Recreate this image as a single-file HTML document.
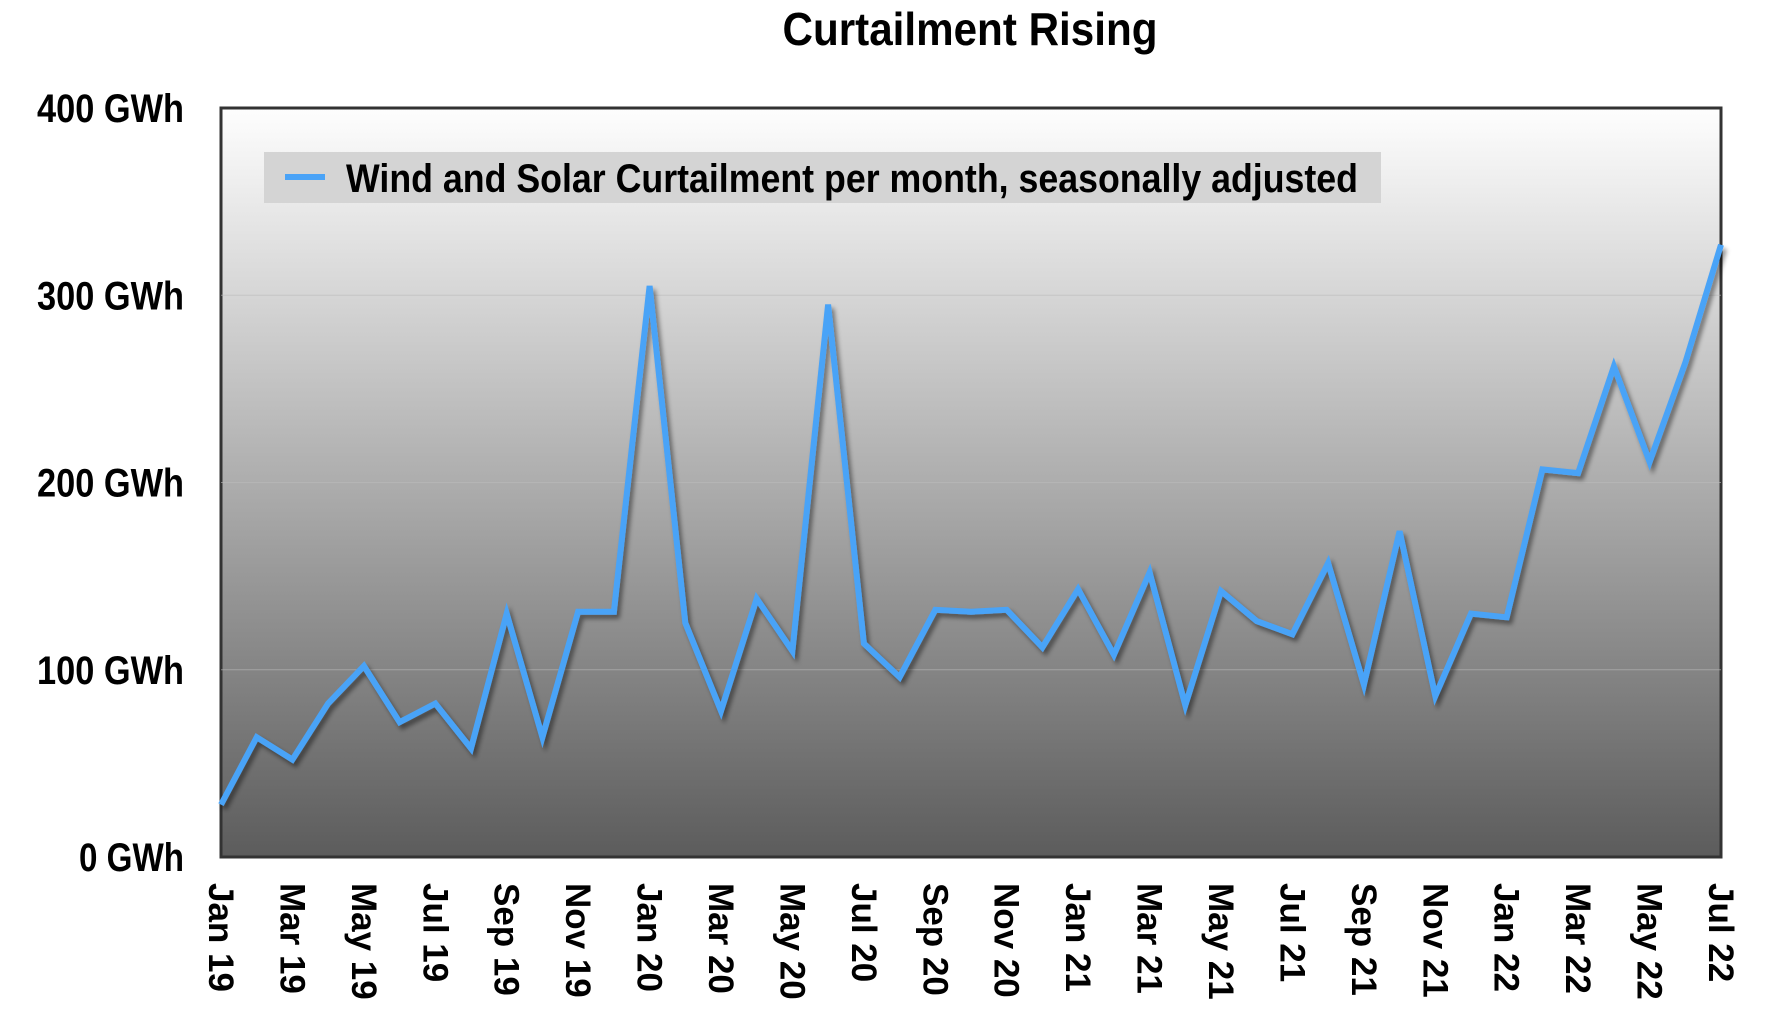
<!DOCTYPE html>
<html><head><meta charset="utf-8"><style>html,body{margin:0;padding:0;background:#fff}svg{display:block}</style></head>
<body>
<svg id="chart" width="1770" height="1026" xmlns="http://www.w3.org/2000/svg" font-family="'Liberation Sans', sans-serif" font-weight="bold">
<defs>
<linearGradient id="bg" x1="0" y1="0" x2="0" y2="1"><stop offset="0" stop-color="#fefefe"/><stop offset="1" stop-color="#5c5c5c"/></linearGradient>
<filter id="sh" x="-5%" y="-5%" width="110%" height="110%"><feDropShadow dx="3" dy="4" stdDeviation="2.5" flood-color="#000" flood-opacity="0.45"/></filter>
</defs>
<text x="970" y="45" text-anchor="middle" font-size="46" textLength="375" lengthAdjust="spacingAndGlyphs">Curtailment Rising</text>
<rect x="221" y="108" width="1500" height="749" fill="url(#bg)" stroke="#333" stroke-width="3"/>
<g id="grid"></g>
<g id="yticks"></g>
<g id="xticks"></g>
<rect x="264" y="152" width="1117" height="51" fill="#d4d4d4"/>
<line x1="285" y1="177" x2="325" y2="177" stroke="#4aa3f7" stroke-width="6"/>
<text x="346" y="192" font-size="40" textLength="1012" lengthAdjust="spacingAndGlyphs">Wind and Solar Curtailment per month, seasonally adjusted</text>
<path id="series" fill="none" stroke="#4aa3f7" stroke-width="6" stroke-linejoin="miter" filter="url(#sh)"/>
</svg>
<script>
const months = ["Jan 19","Feb 19","Mar 19","Apr 19","May 19","Jun 19","Jul 19","Aug 19","Sep 19","Oct 19","Nov 19","Dec 19","Jan 20","Feb 20","Mar 20","Apr 20","May 20","Jun 20","Jul 20","Aug 20","Sep 20","Oct 20","Nov 20","Dec 20","Jan 21","Feb 21","Mar 21","Apr 21","May 21","Jun 21","Jul 21","Aug 21","Sep 21","Oct 21","Nov 21","Dec 21","Jan 22","Feb 22","Mar 22","Apr 22","May 22","Jun 22","Jul 22"];
const values = [28,64,52,82,102,72,82,58,130,64,131,131,305,125,78,138,110,295,114,96,132,131,132,112,143,108,152,81,142,126,119,157,92,174,86,130,128,207,205,262,211,264,327];
const yTicks = [0,100,200,300,400];
const yTickLabels = ["0 GWh","100 GWh","200 GWh","300 GWh","400 GWh"];
const NS="http://www.w3.org/2000/svg";
const L=221,R=1721,T=108,B=857;
const xs=i=>L+(R-L)*i/(months.length-1);
const ys=v=>B-(B-T)*v/400;
const grid=document.getElementById('grid'),yt=document.getElementById('yticks'),xt=document.getElementById('xticks');
yTicks.forEach((v,i)=>{
  if(v>0&&v<400){const g=document.createElementNS(NS,'line');
    
    
    g.setAttribute('x1',L);g.setAttribute('x2',R);g.setAttribute('y1',ys(v));g.setAttribute('y2',ys(v));
    g.setAttribute('stroke','#bbb');g.setAttribute('stroke-opacity','0.6');g.setAttribute('stroke-width','1');grid.appendChild(g);}
  const t=document.createElementNS(NS,'text');
  
  
  t.setAttribute('x',184);t.setAttribute('y',ys(v)+14);t.setAttribute('text-anchor','end');t.setAttribute('font-size','40');
  t.setAttribute('textLength', (yTickLabels[i].length*21).toString());t.setAttribute('lengthAdjust','spacingAndGlyphs');
  t.textContent=yTickLabels[i];yt.appendChild(t);
});
months.forEach((m,i)=>{
  if(i%2) return;
  const t=document.createElementNS(NS,'text');
  
  
  const x=xs(i),y=883;
  t.setAttribute('transform',`translate(${x},${y}) rotate(90)`);
  t.setAttribute('x',0);t.setAttribute('y',12);t.setAttribute('font-size','35');
  t.textContent=m;xt.appendChild(t);
});
document.getElementById('series').setAttribute('d',values.map((v,i)=>(i?'L':'M')+xs(i).toFixed(1)+','+ys(v).toFixed(1)).join(''));
</script>
</body></html>
